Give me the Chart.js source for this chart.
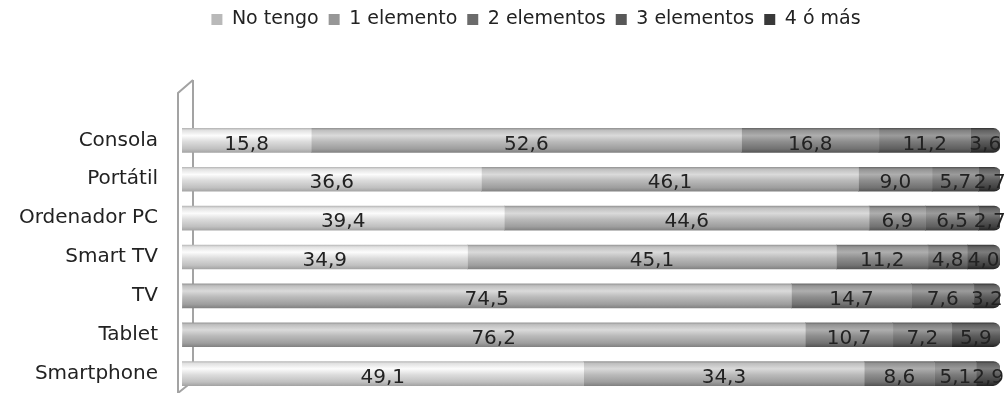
<!DOCTYPE html>
<html>
<head>
<meta charset="utf-8">
<script src="https://cdn.jsdelivr.net/npm/chart.js@4.4.0/dist/chart.umd.min.js"></script>
<style>
    html, body { margin: 0; padding: 0; background: #fff; }
    #wrap { width: 1006px; height: 393px; }
</style>
</head>
<body>
<div id="wrap"><canvas id="chart"></canvas></div>
<script>
// Tenencia de dispositivos (%)
const categories = ['Consola', 'Portátil', 'Ordenador PC', 'Smart TV', 'TV', 'Tablet', 'Smartphone'];
const seriesNames = ['No tengo', '1 elemento', '2 elementos', '3 elementos', '4 ó más'];

const noTengo       = [15.8, 36.6, 39.4, 34.9, 0, 0, 49.1];
const unElemento    = [52.6, 46.1, 44.6, 45.1, 74.5, 76.2, 34.3];
const dosElementos  = [16.8, 9.0, 6.9, 11.2, 14.7, 10.7, 8.6];
const tresElementos = [11.2, 5.7, 6.5, 4.8, 7.6, 7.2, 5.1];
const cuatroOMas    = [3.6, 2.7, 2.7, 4.0, 3.2, 5.9, 2.9];

const seriesValues = [noTengo, unElemento, dosElementos, tresElementos, cuatroOMas];
const seriesColors = ['#dcdcdc', '#bababa', '#8e8e8e', '#7b7b7b', '#5c5c5c'];

const FONT = "'Century Gothic', 'DejaVu Sans', sans-serif";
const BAR_THICKNESS = 24;

function shade(hex, amt) {
    const n = parseInt(hex.slice(1), 16);
    const clamp = v => Math.max(0, Math.min(255, v));
    const r = clamp((n >> 16) + amt);
    const g = clamp(((n >> 8) & 255) + amt);
    const b = clamp((n & 255) + amt);
    return `rgb(${r},${g},${b})`;
}

// Cylinder-like vertical gradient for each bar
function cylinderFill(color) {
    return function(c) {
        if (c.type !== 'data' || !c.chart.scales.y) return color;
        const cy = c.chart.scales.y.getPixelForValue(c.dataIndex);
        if (!isFinite(cy)) return color;
        const top = cy - BAR_THICKNESS / 2;
        const g = c.chart.ctx.createLinearGradient(0, top, 0, top + BAR_THICKNESS);
        g.addColorStop(0, shade(color, -35));
        g.addColorStop(0.08, shade(color, 5));
        g.addColorStop(0.3, shade(color, 32));
        g.addColorStop(0.55, color);
        g.addColorStop(0.85, shade(color, -28));
        g.addColorStop(1, shade(color, -55));
        return g;
    };
}

// Pseudo 3D wall on the left of the bars
const wallPlugin = {
    id: 'wall',
    beforeDatasetsDraw(chart) {
        const { ctx, chartArea } = chart;
        const outerX = chartArea.left - 4;
        const innerX = chartArea.left + 11;
        const topY = chartArea.top - 41;
        ctx.save();
        ctx.strokeStyle = '#a3a3a3';
        ctx.lineWidth = 2;
        ctx.beginPath();
        ctx.moveTo(innerX, topY);
        ctx.lineTo(innerX, chartArea.bottom - 12);
        ctx.lineTo(outerX, chartArea.bottom);
        ctx.moveTo(outerX, chartArea.bottom);
        ctx.lineTo(outerX, topY + 13);
        ctx.lineTo(innerX, topY);
        ctx.stroke();
        ctx.restore();
    }
};

// Values written inside the segments
const valueLabels = {
    id: 'valueLabels',
    afterDatasetsDraw(chart) {
        const ctx = chart.ctx;
        ctx.save();
        ctx.font = '20px ' + FONT;
        ctx.fillStyle = '#222';
        ctx.textAlign = 'center';
        ctx.textBaseline = 'middle';
        chart.data.datasets.forEach((ds, i) => {
            const meta = chart.getDatasetMeta(i);
            meta.data.forEach((bar, j) => {
                const v = ds.data[j];
                if (!v) return;
                const x = (bar.x + bar.base) / 2;
                ctx.fillText(v.toFixed(1).replace('.', ','), x, bar.y + 4);
            });
        });
        ctx.restore();
    }
};

// Legend: more room below it, and shifted a bit to the right
const legendSpace = {
    id: 'legendSpace',
    beforeInit(chart) {
        const fit = chart.legend.fit;
        chart.legend.fit = function() {
            fit.call(this);
            this.height = 121;
        };
    },
    afterLayout(chart) {
        chart.legend.left += 36;
        chart.legend.right += 36;
    }
};

const datasets = seriesNames.map((name, i) => ({
    label: name,
    data: seriesValues[i],
    backgroundColor: cylinderFill(seriesColors[i]),
    borderWidth: 0,
    borderRadius: 7,
    barThickness: BAR_THICKNESS
}));

new Chart(document.getElementById('chart'), {
    type: 'bar',
    data: { labels: categories, datasets: datasets },
    options: {
        indexAxis: 'y',
        responsive: true,
        maintainAspectRatio: false,
        animation: false,
        layout: { padding: { top: 0, right: 6, bottom: -2, left: 0 } },
        plugins: {
            legend: {
                position: 'top',
                labels: {
                    boxWidth: 11,
                    boxHeight: 11,
                    padding: 10,
                    color: '#222',
                    font: { size: 19, family: FONT }
                }
            },
            tooltip: { enabled: false }
        },
        scales: {
            x: { display: false, stacked: true, min: 0, max: 100 },
            y: {
                stacked: true,
                grid: { display: false, drawTicks: false },
                border: { display: false },
                ticks: { color: '#222', padding: 24, font: { size: 20, family: FONT } },
                afterFit: s => {
                    s.width = 182;
                    s.paddingTop = 0;
                    s.paddingBottom = 0;
                }
            }
        }
    },
    plugins: [wallPlugin, valueLabels, legendSpace]
});
</script>
</body>
</html>
